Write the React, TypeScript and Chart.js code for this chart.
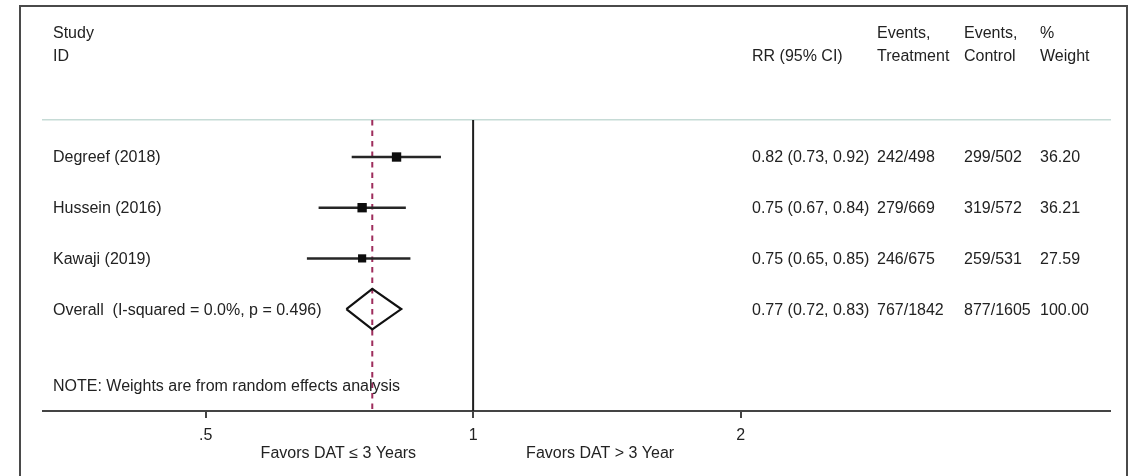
import React, { useEffect, useRef } from "react";
import { Chart, registerables } from "chart.js";

Chart.register(...registerables);

// Study-level results (risk ratios with 95% CI)
const studies = ["Degreef (2018)", "Hussein (2016)", "Kawaji (2019)"];
const rr = [0.82, 0.75, 0.75];
const ciLow = [0.73, 0.67, 0.65];
const ciHigh = [0.92, 0.84, 0.85];
const eventsTreatment = ["242/498", "279/669", "246/675"];
const eventsControl = ["299/502", "319/572", "259/531"];
const weights = [36.2, 36.21, 27.59];

// Pooled estimate
const overallLabel = "Overall  (I-squared = 0.0%, p = 0.496)";
const overallRR = 0.77;
const overallLow = 0.72;
const overallHigh = 0.83;
const overallTreatment = "767/1842";
const overallControl = "877/1605";
const overallWeight = 100.0;

// Axis
const tickValues = [0.5, 1, 2];
const tickLabels = [".5", "1", "2"];
const xMin = 0.328;
const xMax = 5.21;
const favorsLeft = "Favors DAT \u2264 3 Years";
const favorsRight = "Favors DAT > 3 Year";
const noteText = "NOTE: Weights are from random effects analysis";

// Row slots on the (reversed) y scale
const yMin = 0.27;
const yMax = 6.01;
const overallRow = studies.length + 1;
const noteRow = overallRow + 1.5;

const FONT = '"Liberation Sans", Arial, Helvetica, sans-serif';
const TEXT = "#222";

const fmt = (v: number) => v.toFixed(2);
const rrText = (e: number, lo: number, hi: number) => `${fmt(e)} (${fmt(lo)}, ${fmt(hi)})`;

const tablePlugin = {
  id: "forestTable",
  beforeDraw(chart: any) {
    const ctx = chart.ctx;
    ctx.save();
    ctx.strokeStyle = "#4a4a4a";
    ctx.lineWidth = 2;
    ctx.strokeRect(20, 6, 1107, 520);
    ctx.restore();
  },
  afterDraw(chart: any) {
    const ctx = chart.ctx;
    const x = chart.scales.x;
    const y = chart.scales.y;
    const colStudy = 53;
    const colRR = 752;
    const colT = 877;
    const colC = 964;
    const colW = 1040;
    ctx.save();
    ctx.fillStyle = TEXT;
    ctx.font = `16px ${FONT}`;
    ctx.textBaseline = "middle";
    ctx.textAlign = "left";

    // header
    const h1 = 34;
    const h2 = 57;
    ctx.fillText("Study", colStudy, h1);
    ctx.fillText("ID", colStudy, h2);
    ctx.fillText("RR (95% CI)", colRR, h2);
    ctx.fillText("Events,", colT, h1);
    ctx.fillText("Treatment", colT, h2);
    ctx.fillText("Events,", colC, h1);
    ctx.fillText("Control", colC, h2);
    ctx.fillText("%", colW, h1);
    ctx.fillText("Weight", colW, h2);

    // study rows
    studies.forEach((s, i) => {
      const py = y.getPixelForValue(i + 1) + 1;
      ctx.fillText(s, colStudy, py);
      ctx.fillText(rrText(rr[i], ciLow[i], ciHigh[i]), colRR, py);
      ctx.fillText(eventsTreatment[i], colT, py);
      ctx.fillText(eventsControl[i], colC, py);
      ctx.fillText(fmt(weights[i]), colW, py);
    });

    // overall row
    const oy = y.getPixelForValue(overallRow) + 1;
    ctx.fillText(overallLabel, colStudy, oy);
    ctx.fillText(rrText(overallRR, overallLow, overallHigh), colRR, oy);
    ctx.fillText(overallTreatment, colT, oy);
    ctx.fillText(overallControl, colC, oy);
    ctx.fillText(fmt(overallWeight), colW, oy);

    // note
    ctx.fillText(noteText, colStudy, y.getPixelForValue(noteRow) + 1);

    // favours labels under the axis
    const fy = 454;
    const one = x.getPixelForValue(1);
    ctx.textAlign = "right";
    ctx.fillText(favorsLeft, one - 57, fy);
    ctx.textAlign = "left";
    ctx.fillText(favorsRight, one + 53, fy);
    ctx.restore();
  },
};

export default function App() {
  const canvasRef = useRef<HTMLCanvasElement | null>(null);

  useEffect(() => {
    if (!canvasRef.current) return;

    const ciSets = studies.map((s, i) => ({
      label: s,
      data: [
        { x: ciLow[i], y: i + 1 },
        { x: ciHigh[i], y: i + 1 },
      ],
      showLine: true,
      borderColor: "#262626",
      borderWidth: 2.5,
      pointRadius: 0,
      order: 2,
    }));

    const squares = {
      label: "estimates",
      data: studies.map((_, i) => ({ x: rr[i], y: i + 1 })),
      pointStyle: "rect",
      pointRadius: weights.map((w) => Math.sqrt(w) * 1.1),
      backgroundColor: "#0d0d0d",
      borderColor: "#0d0d0d",
      borderWidth: 0,
      order: 0,
    };

    const h = 0.4;
    const diamond = {
      label: "overall",
      data: [
        { x: overallLow, y: overallRow },
        { x: overallRR, y: overallRow - h },
        { x: overallHigh, y: overallRow },
        { x: overallRR, y: overallRow + h },
        { x: overallLow, y: overallRow },
      ],
      showLine: true,
      borderColor: "#111",
      borderWidth: 2.2,
      borderJoinStyle: "miter",
      pointRadius: 0,
      order: 1,
    };

    const pooledLine = {
      label: "pooled",
      data: [
        { x: overallRR, y: yMin },
        { x: overallRR, y: yMax },
      ],
      showLine: true,
      borderColor: "#9e2d5c",
      borderWidth: 2,
      borderDash: [5.5, 5],
      pointRadius: 0,
      order: 3,
    };

    const nullLine = {
      label: "null",
      data: [
        { x: 1, y: yMin },
        { x: 1, y: yMax },
      ],
      showLine: true,
      borderColor: "#1e1e1e",
      borderWidth: 2,
      pointRadius: 0,
      order: 4,
    };

    const chart = new Chart(canvasRef.current, {
      type: "scatter",
      data: { datasets: [squares, diamond, ...ciSets, pooledLine, nullLine] as any },
      plugins: [tablePlugin],
      options: {
        animation: false,
        responsive: false,
        devicePixelRatio: 1,
        layout: { padding: { left: 43, right: 22, top: 120, bottom: 0 } },
        plugins: { legend: { display: false }, tooltip: { enabled: false } },
        scales: {
          x: {
            type: "logarithmic",
            position: "bottom",
            bounds: "data",
            min: xMin,
            max: xMax,
            afterBuildTicks: (s: any) => {
              s.ticks = tickValues.map((v) => ({ value: v }));
            },
            afterFit: (s: any) => {
              s.height = 65;
            },
            ticks: {
              autoSkip: false,
              maxRotation: 0,
              padding: 8,
              color: TEXT,
              font: { family: FONT, size: 16 },
              callback: (v: any) => {
                const k = tickValues.indexOf(Number(v));
                return k >= 0 ? tickLabels[k] : "";
              },
            },
            grid: {
              drawOnChartArea: false,
              drawTicks: true,
              tickLength: 7,
              color: "#444",
              lineWidth: 2,
            },
            border: { display: true, color: "#444", width: 2 },
          },
          xTop: {
            type: "logarithmic",
            position: "top",
            bounds: "data",
            min: xMin,
            max: xMax,
            afterFit: (s: any) => {
              s.height = 0;
            },
            ticks: { display: false },
            grid: { display: false, drawTicks: false },
            border: { display: true, color: "#c6dbd6", width: 1.5 },
          },
          y: {
            type: "linear",
            reverse: true,
            min: yMin,
            max: yMax,
            display: false,
          },
        },
      } as any,
    });

    return () => chart.destroy();
  }, []);

  return (
    <div style={{ position: "absolute", left: 0, top: 0, width: 1132, height: 476, background: "#fff" }}>
      <canvas ref={canvasRef} width={1132} height={476} />
    </div>
  );
}
